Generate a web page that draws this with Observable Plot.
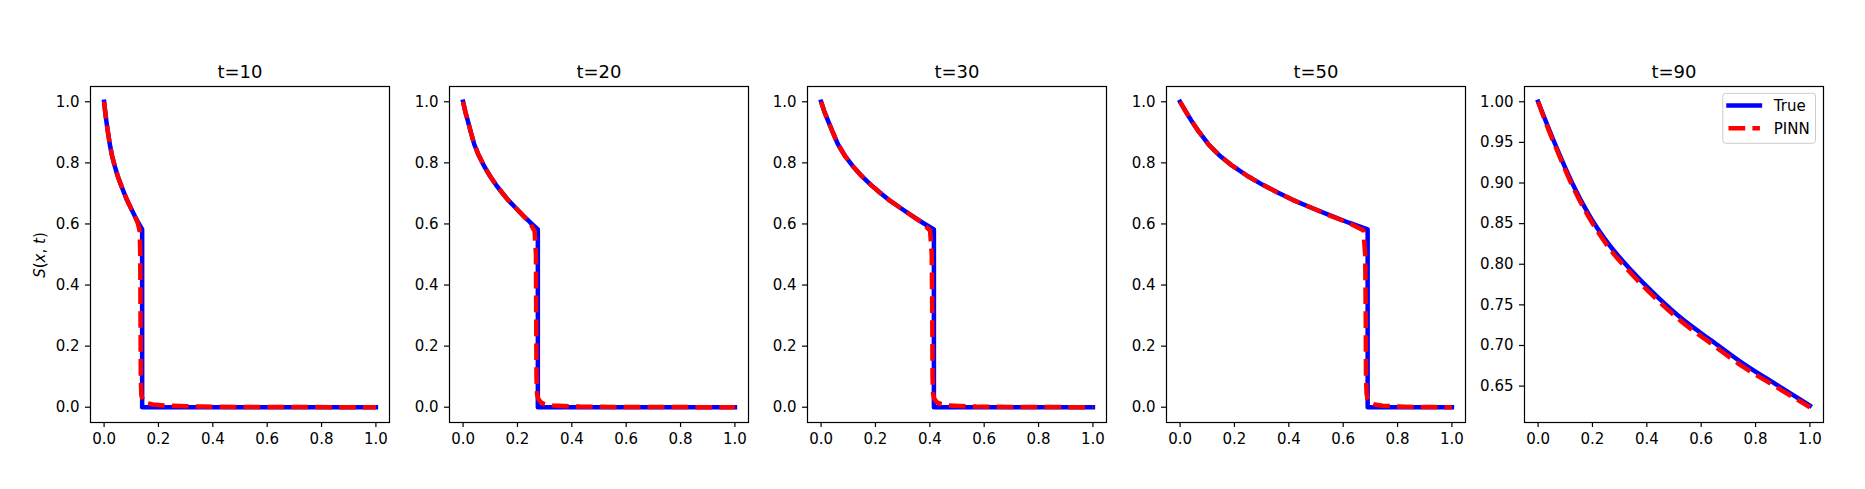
<!DOCTYPE html>
<html>
<head>
<meta charset="utf-8">
<script src="https://cdn.jsdelivr.net/npm/d3@7"></script>
<script src="https://cdn.jsdelivr.net/npm/@observablehq/plot@0.6"></script>
<style>
  html, body { margin: 0; padding: 0; background: #fff; }
  #wrap { position: relative; width: 1865px; height: 489px; background: #fff; overflow: hidden; }
  #wrap svg { position: absolute; }
</style>
</head>
<body>
<div id="wrap"></div>
<script>
// ---------- data ----------
const titles = ["t=10", "t=20", "t=30", "t=50", "t=90"];
const xTicks = [0, 0.2, 0.4, 0.6, 0.8, 1.0];
const yTicksFull = [0, 0.2, 0.4, 0.6, 0.8, 1.0];
const yTicks90 = [0.65, 0.70, 0.75, 0.80, 0.85, 0.90, 0.95, 1.00];
const seriesNames = ["True", "PINN"];

// t = 10
const x10True = [0, 0.004, 0.008, 0.014, 0.021, 0.029, 0.039, 0.050, 0.062, 0.073, 0.084, 0.098, 0.112, 0.126, 0.140, 0.140, 1.0];
const s10True = [1.000, 0.968, 0.939, 0.902, 0.861, 0.824, 0.790, 0.757, 0.728, 0.703, 0.679, 0.653, 0.628, 0.604, 0.582, 0.000, 0.000];
const x10Pinn = [0, 0.004, 0.008, 0.014, 0.021, 0.029, 0.039, 0.050, 0.062, 0.073, 0.084, 0.098, 0.112, 0.125, 0.131, 0.133, 0.134, 0.135, 0.137, 0.143, 0.155, 0.180, 0.220, 0.280, 0.360, 0.500, 1.0];
const s10Pinn = [1.000, 0.968, 0.939, 0.902, 0.861, 0.824, 0.790, 0.757, 0.728, 0.703, 0.679, 0.653, 0.627, 0.600, 0.575, 0.500, 0.300, 0.100, 0.040, 0.022, 0.014, 0.009, 0.006, 0.004, 0.002, 0.001, 0.000];

// t = 20
const x20True = [0, 0.008, 0.017, 0.028, 0.041, 0.058, 0.077, 0.099, 0.121, 0.143, 0.165, 0.193, 0.220, 0.248, 0.275, 0.275, 1.0];
const s20True = [1.000, 0.968, 0.939, 0.902, 0.861, 0.824, 0.790, 0.757, 0.728, 0.703, 0.679, 0.653, 0.628, 0.604, 0.582, 0.000, 0.000];
const x20Pinn = [0, 0.008, 0.017, 0.028, 0.041, 0.058, 0.077, 0.099, 0.121, 0.143, 0.165, 0.193, 0.220, 0.245, 0.263, 0.268, 0.269, 0.270, 0.272, 0.276, 0.286, 0.300, 0.330, 0.370, 0.430, 0.550, 1.0];
const s20Pinn = [1.000, 0.968, 0.939, 0.902, 0.861, 0.824, 0.790, 0.757, 0.728, 0.703, 0.679, 0.653, 0.628, 0.604, 0.577, 0.500, 0.300, 0.100, 0.045, 0.028, 0.016, 0.010, 0.006, 0.004, 0.002, 0.001, 0.000];

// t = 30
const x30True = [0, 0.012, 0.025, 0.042, 0.062, 0.087, 0.116, 0.149, 0.183, 0.216, 0.249, 0.291, 0.332, 0.374, 0.415, 0.415, 1.0];
const s30True = [1.000, 0.968, 0.939, 0.902, 0.861, 0.824, 0.790, 0.757, 0.728, 0.703, 0.679, 0.653, 0.628, 0.604, 0.582, 0.000, 0.000];
const x30Pinn = [0, 0.012, 0.025, 0.042, 0.062, 0.087, 0.116, 0.149, 0.183, 0.216, 0.249, 0.291, 0.332, 0.372, 0.401, 0.407, 0.409, 0.410, 0.412, 0.416, 0.426, 0.442, 0.470, 0.510, 0.570, 0.700, 1.0];
const s30Pinn = [1.000, 0.968, 0.939, 0.902, 0.861, 0.824, 0.790, 0.757, 0.728, 0.703, 0.679, 0.653, 0.628, 0.604, 0.578, 0.500, 0.300, 0.100, 0.045, 0.028, 0.016, 0.010, 0.006, 0.004, 0.002, 0.001, 0.000];

// t = 50
const x50True = [0, 0.021, 0.041, 0.069, 0.104, 0.145, 0.193, 0.248, 0.304, 0.359, 0.414, 0.483, 0.552, 0.621, 0.690, 0.690, 1.0];
const s50True = [1.000, 0.968, 0.939, 0.902, 0.861, 0.824, 0.790, 0.757, 0.728, 0.703, 0.679, 0.653, 0.628, 0.604, 0.582, 0.000, 0.000];
const x50Pinn = [0, 0.021, 0.041, 0.069, 0.104, 0.145, 0.193, 0.248, 0.304, 0.359, 0.414, 0.483, 0.552, 0.621, 0.674, 0.681, 0.683, 0.684, 0.686, 0.690, 0.700, 0.716, 0.745, 0.790, 0.860, 1.0];
const s50Pinn = [1.000, 0.968, 0.939, 0.902, 0.861, 0.824, 0.790, 0.757, 0.728, 0.703, 0.679, 0.653, 0.627, 0.603, 0.579, 0.500, 0.300, 0.100, 0.045, 0.026, 0.015, 0.009, 0.005, 0.003, 0.001, 0.000];

// t = 90
const x90True = [0, 0.038, 0.075, 0.124, 0.185, 0.259, 0.344, 0.442, 0.540, 0.638, 0.749, 0.871, 1.0];
const s90True = [1.000, 0.968, 0.938, 0.901, 0.862, 0.825, 0.792, 0.759, 0.730, 0.706, 0.679, 0.653, 0.626];
const x90Pinn = [0, 0.038, 0.075, 0.124, 0.185, 0.259, 0.344, 0.442, 0.540, 0.638, 0.749, 0.871, 1.0];
const s90Pinn = [1.000, 0.966, 0.936, 0.898, 0.859, 0.821, 0.788, 0.755, 0.726, 0.702, 0.675, 0.650, 0.624];

// ---------- layout ----------
const FONT = "DejaVu Sans";
const frameW = 299, frameH = 336;
const mL = 60, mR = 12, mT = 40, mB = 40;
const firstLeft = 90, step = 358.6, frameTop = 86;

function pts(xs, ss) { return xs.map((x, k) => ({x, s: ss[k]})); }
function padded(vals) {
  const lo = d3.min(vals), hi = d3.max(vals), r = hi - lo;
  return [lo - 0.05 * r, hi + 0.05 * r];
}

const panels = [
  {title: titles[0], t: pts(x10True, s10True), p: pts(x10Pinn, s10Pinn), ticks: yTicksFull, fmt: ".1f", curve: "linear"},
  {title: titles[1], t: pts(x20True, s20True), p: pts(x20Pinn, s20Pinn), ticks: yTicksFull, fmt: ".1f", curve: "linear"},
  {title: titles[2], t: pts(x30True, s30True), p: pts(x30Pinn, s30Pinn), ticks: yTicksFull, fmt: ".1f", curve: "linear"},
  {title: titles[3], t: pts(x50True, s50True), p: pts(x50Pinn, s50Pinn), ticks: yTicksFull, fmt: ".1f", curve: "linear"},
  {title: titles[4], t: pts(x90True, s90True), p: pts(x90Pinn, s90Pinn), ticks: yTicks90, fmt: ".2f", curve: "monotone-x"}
];

const wrap = document.getElementById("wrap");
const dash = "16.7,7.2";

panels.forEach((P, i) => {
  const allS = P.t.map(d => d.s).concat(P.p.map(d => d.s));
  const allX = P.t.map(d => d.x).concat(P.p.map(d => d.x));
  const svg = Plot.plot({
    width: mL + frameW + mR,
    height: mT + frameH + mB,
    marginLeft: mL, marginRight: mR, marginTop: mT, marginBottom: mB,
    style: {fontFamily: FONT, fontSize: "15px", color: "black", background: "transparent", overflow: "visible"},
    x: {domain: padded(allX)},
    y: {domain: padded(allS)},
    marks: [
      Plot.line(P.t, {x: "x", y: "s", curve: P.curve, stroke: "blue", strokeWidth: 4.5, strokeLinecap: "square", strokeLinejoin: "round"}),
      Plot.line(P.p, {x: "x", y: "s", curve: P.curve, stroke: "red", strokeWidth: 4.5, strokeDasharray: dash, strokeLinecap: "butt", strokeLinejoin: "round"}),
      Plot.frame({stroke: "black", strokeWidth: 1.2}),
      Plot.axisX({ticks: xTicks, tickFormat: d3.format(".1f"), tickSize: 5, tickPadding: 6, label: null, strokeWidth: 1.2, fontSize: 15}),
      Plot.axisY({ticks: P.ticks, tickFormat: d3.format(P.fmt), tickSize: 5, tickPadding: 6, label: null, strokeWidth: 1.2, fontSize: 15}),
      Plot.text([P.title], {text: d => d, frameAnchor: "top", dy: -9, lineAnchor: "bottom", fontSize: 18, fill: "black"})
    ]
  });
  svg.style.left = (firstLeft + i * step - mL) + "px";
  svg.style.top = (frameTop - mT) + "px";
  wrap.appendChild(svg);

  const s = d3.select(svg);
  if (i === 0) {
    const lab = s.append("text")
      .attr("transform", `translate(15,${255 - (frameTop - mT)}) rotate(-90)`)
      .attr("text-anchor", "middle")
      .attr("font-family", FONT).attr("font-size", 15).attr("fill", "black");
    lab.append("tspan").attr("font-style", "italic").text("S");
    lab.append("tspan").text("(");
    lab.append("tspan").attr("font-style", "italic").text("x");
    lab.append("tspan").text(", ");
    lab.append("tspan").attr("font-style", "italic").text("t");
    lab.append("tspan").text(")");
  }
  if (i === 4) {
    const gx = mL + frameW - 7.5 - 92.7; // legend box left
    const gy = mT + 7.3;
    const g = s.append("g");
    g.append("rect").attr("x", gx).attr("y", gy).attr("width", 92.7).attr("height", 50)
      .attr("rx", 3).attr("fill", "white").attr("fill-opacity", 0.8)
      .attr("stroke", "#cccccc").attr("stroke-width", 1);
    const lx0 = gx + 5.7, lx1 = gx + 37.1;
    const rows = [
      {name: seriesNames[0], y: gy + 12.2, color: "blue", dash: null, cap: "square"},
      {name: seriesNames[1], y: gy + 34.9, color: "red", dash: dash, cap: "butt"}
    ];
    rows.forEach(r => {
      const ln = g.append("line").attr("x1", lx0).attr("x2", lx1).attr("y1", r.y).attr("y2", r.y)
        .attr("stroke", r.color).attr("stroke-width", 4.5).attr("stroke-linecap", r.cap);
      if (r.dash) ln.attr("stroke-dasharray", r.dash);
      g.append("text").attr("x", gx + 51).attr("y", r.y + 5.4)
        .attr("text-anchor", "start")
        .attr("font-family", FONT).attr("font-size", 15).attr("fill", "black").text(r.name);
    });
  }
});
</script>
</body>
</html>
